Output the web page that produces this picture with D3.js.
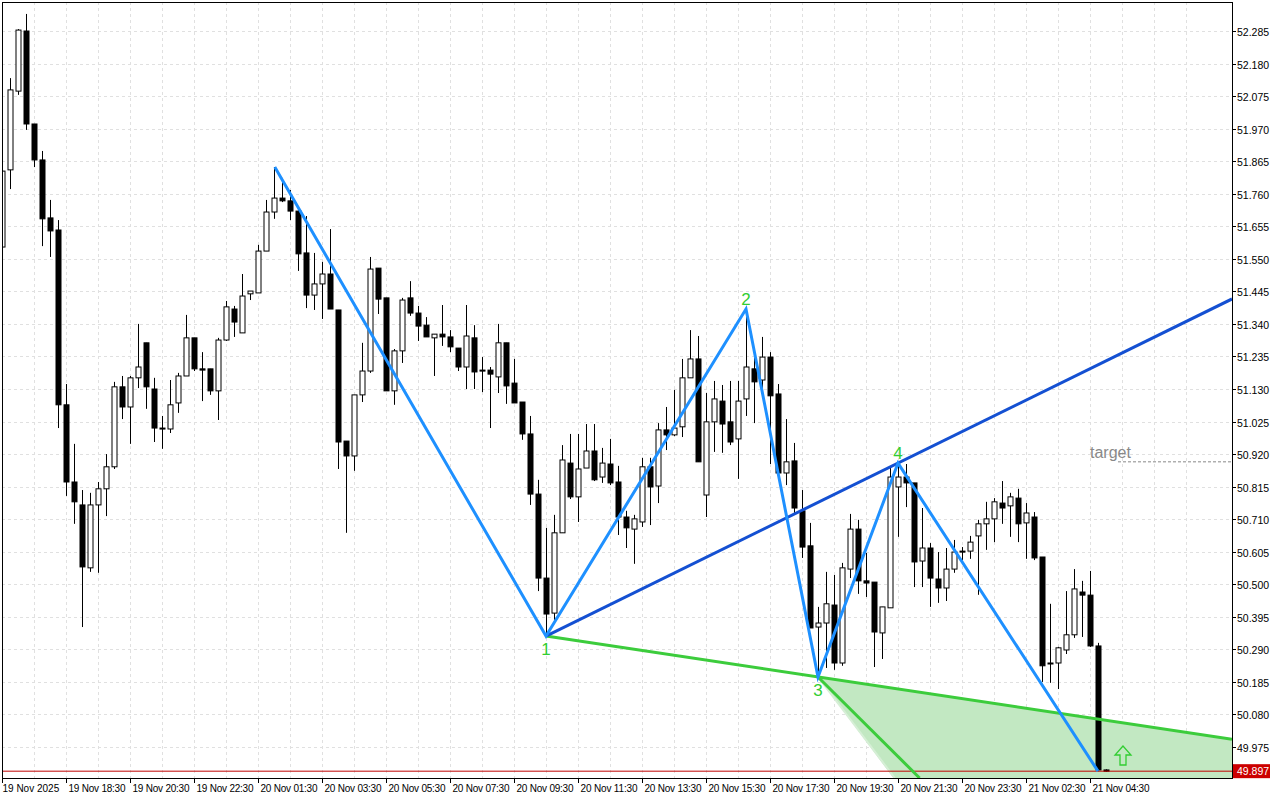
<!DOCTYPE html>
<html><head><meta charset="utf-8">
<script src="https://cdn.jsdelivr.net/npm/d3@7"></script>
<style>body{margin:0;background:#fff}text{font-family:"Liberation Sans",Arial,sans-serif}</style>
</head><body><svg id="c" width="1280" height="800"></svg>
<script>
const openP=[51.588,51.837,52.091,52.285,51.985,51.869,51.682,51.643,51.079,50.830,50.756,50.553,50.756,50.808,50.879,51.137,51.072,51.166,51.279,51.130,51.004,51.001,51.085,51.172,51.295,51.195,51.195,51.124,51.288,51.388,51.311,51.437,51.440,51.575,51.701,51.746,51.737,51.704,51.569,51.433,51.469,51.501,51.385,50.962,50.914,51.111,51.188,51.520,51.424,51.124,51.253,51.424,51.375,51.336,51.295,51.307,51.298,51.262,51.201,51.295,51.191,51.191,51.169,51.279,51.149,51.088,50.985,50.791,50.520,50.407,50.666,50.891,50.782,50.875,50.930,50.846,50.888,50.830,50.717,50.678,50.701,50.879,50.817,50.998,50.982,51.008,51.166,51.227,50.788,51.024,51.091,51.024,50.969,51.098,51.195,51.159,51.233,51.114,50.859,50.898,50.737,50.624,50.362,50.375,50.433,50.246,50.549,50.678,50.511,50.507,50.343,50.424,50.814,50.846,50.827,50.575,50.617,50.517,50.488,50.549,50.607,50.607,50.656,50.695,50.711,50.762,50.753,50.778,50.698,50.717,50.588,50.246,50.246,50.288,50.337,50.475,50.465,50.301,49.901];
const highP=[51.853,52.133,52.291,52.340,51.985,51.898,51.740,51.675,51.146,50.953,50.804,50.795,50.830,50.920,51.153,51.172,51.172,51.340,51.279,51.166,51.043,51.159,51.182,51.369,51.295,51.249,51.195,51.295,51.414,51.398,51.501,51.446,51.595,51.740,51.846,51.811,51.772,51.711,51.688,51.569,51.540,51.646,51.385,50.962,51.111,51.279,51.556,51.520,51.424,51.259,51.424,51.478,51.398,51.362,51.307,51.401,51.320,51.262,51.401,51.336,51.233,51.201,51.340,51.279,51.227,51.088,51.043,50.837,50.682,50.724,50.949,50.985,50.985,51.017,51.017,50.940,50.969,50.882,50.737,50.724,50.908,50.908,51.020,51.072,51.127,51.227,51.320,51.301,51.117,51.156,51.143,51.156,51.156,51.385,51.230,51.298,51.249,51.146,51.033,50.956,50.804,50.698,50.427,50.540,50.530,50.569,50.727,50.708,50.601,50.507,50.427,50.879,50.891,50.888,50.827,50.746,50.633,50.604,50.617,50.643,50.620,50.656,50.708,50.766,50.778,50.833,50.795,50.808,50.762,50.733,50.588,50.437,50.298,50.478,50.549,50.511,50.543,50.311,49.903];
const lowP=[51.585,51.775,52.079,51.966,51.846,51.591,51.556,51.004,50.785,50.695,50.362,50.540,50.537,50.720,50.872,51.033,50.953,51.133,51.066,50.959,50.937,50.988,51.053,51.172,51.188,51.091,51.111,51.030,51.285,51.298,51.311,51.417,51.440,51.575,51.679,51.733,51.675,51.511,51.391,51.385,51.356,51.388,50.872,50.666,50.866,51.088,51.182,51.372,51.124,51.079,51.214,51.366,51.285,51.298,51.172,51.269,51.249,51.188,51.130,51.130,51.120,51.004,51.117,51.082,51.085,50.966,50.756,50.478,50.333,50.385,50.666,50.775,50.701,50.875,50.833,50.827,50.820,50.659,50.617,50.566,50.685,50.691,50.762,50.933,50.978,50.975,51.166,50.895,50.717,50.927,50.924,50.949,50.840,51.043,51.020,51.133,50.888,50.859,50.820,50.730,50.585,50.359,50.204,50.230,50.224,50.237,50.520,50.469,50.459,50.233,50.259,50.424,50.653,50.749,50.491,50.491,50.427,50.440,50.446,50.537,50.578,50.582,50.466,50.611,50.636,50.695,50.653,50.636,50.582,50.578,50.185,50.182,50.162,50.275,50.327,50.330,50.298,49.897,49.895];
const closeP=[51.833,52.095,52.288,51.985,51.869,51.679,51.640,51.079,50.830,50.766,50.556,50.756,50.808,50.879,51.137,51.072,51.166,51.201,51.137,51.004,51.001,51.079,51.172,51.295,51.195,51.191,51.124,51.288,51.395,51.346,51.430,51.446,51.575,51.701,51.746,51.737,51.704,51.566,51.433,51.469,51.501,51.388,50.959,50.914,51.111,51.188,51.517,51.420,51.124,51.253,51.417,51.375,51.333,51.298,51.307,51.298,51.266,51.201,51.301,51.185,51.188,51.178,51.279,51.140,51.085,50.985,50.791,50.520,50.404,50.666,50.901,50.782,50.872,50.930,50.837,50.891,50.827,50.717,50.682,50.711,50.879,50.814,50.998,50.982,51.004,51.166,51.227,50.895,51.024,51.098,51.017,50.959,51.091,51.201,51.153,51.233,51.108,50.859,50.895,50.746,50.620,50.359,50.375,50.437,50.246,50.553,50.678,50.511,50.504,50.346,50.427,50.846,50.846,50.827,50.572,50.617,50.520,50.488,50.549,50.604,50.605,50.636,50.695,50.711,50.766,50.746,50.782,50.695,50.730,50.585,50.237,50.243,50.295,50.337,50.485,50.465,50.301,49.901,49.897];
const priceTicks=[52.285,52.180,52.075,51.970,51.865,51.760,51.655,51.550,51.445,51.340,51.235,51.130,51.025,50.920,50.815,50.710,50.605,50.500,50.395,50.290,50.185,50.080,49.975];
const timeTickIdx=[0,8,16,24,32,40,48,56,64,72,80,88,96,104,112,120,128,136];
const timeTickLabels=["19 Nov 2025","19 Nov 18:30","19 Nov 20:30","19 Nov 22:30","20 Nov 01:30","20 Nov 03:30","20 Nov 05:30","20 Nov 07:30","20 Nov 09:30","20 Nov 11:30","20 Nov 13:30","20 Nov 15:30","20 Nov 17:30","20 Nov 19:30","20 Nov 21:30","20 Nov 23:30","21 Nov 02:30","21 Nov 04:30"];
const pivotIdx=[34.1,68,93,102,112,137];
const pivotPrice=[51.846,50.333,51.388,50.201,50.891,49.897];
const pivotLabels=["","1","2","3","4","5"];
const lastPrice=49.897, targetPrice=50.895;

const L=2,R=1232,T=2,B=778;
const svg=d3.select("#c");
const x=d3.scaleLinear().domain([0,137]).range([2,1098]);
const y=d3.scaleLinear().domain([52.285,49.975]).range([31,747]);
const idxR=x.invert(R);
svg.append("defs").append("clipPath").attr("id","cp").append("rect").attr("x",L).attr("y",T).attr("width",R-L).attr("height",B-T);
const g=svg.append("g").attr("clip-path","url(#cp)");
g.selectAll(".hg").data(priceTicks).enter().append("line").attr("x1",L).attr("x2",R).attr("y1",d=>Math.round(y(d))+.5).attr("y2",d=>Math.round(y(d))+.5).attr("stroke","#e0e0e0").attr("stroke-dasharray","3,3");
g.selectAll(".vg").data(d3.range(4,152,4)).enter().append("line").attr("y1",T).attr("y2",B).attr("x1",d=>Math.round(x(d))+.5).attr("x2",d=>Math.round(x(d))+.5).attr("stroke","#e0e0e0").attr("stroke-dasharray","3,3");
const i3=pivotIdx[3],p3=pivotPrice[3],i1=pivotIdx[1],p1=pivotPrice[1];
const s13=(p3-p1)/(i3-i1);
const pB=y.invert(B);
const steepEnd=[114.7,pB], fillEnd=[111.6,pB];
g.append("path").attr("d",d3.line()([[x(i3),y(p3)],[x(idxR),y(p3+s13*(idxR-i3))],[x(idxR),B+2],[x(fillEnd[0]),B+2]])).attr("fill","#c2e8c2");
g.append("line").attr("x1",x(i3)).attr("y1",y(p3)).attr("x2",x(fillEnd[0])).attr("y2",y(fillEnd[1])).attr("stroke","#d6efd6").attr("stroke-width",2);
const n=openP.length;
const cg=g.append("g");
d3.range(n).forEach(i=>{
  const cx=Math.round(x(i))+.5;
  cg.append("line").attr("x1",cx).attr("x2",cx).attr("y1",y(highP[i])).attr("y2",y(lowP[i])).attr("stroke","#000");
  const up=closeP[i]>=openP[i];
  const t=y(Math.max(openP[i],closeP[i])),b=y(Math.min(openP[i],closeP[i]));
  cg.append("rect").attr("x",cx-2.5).attr("y",t).attr("width",5).attr("height",Math.max(1,b-t)).attr("fill",up?"#fff":"#000").attr("stroke","#000").attr("stroke-width",1);
});
g.append("line").attr("x1",L).attr("x2",R).attr("y1",y(lastPrice)).attr("y2",y(lastPrice)).attr("stroke","#c00000");
g.append("line").attr("x1",x(i3)).attr("y1",y(p3)).attr("x2",x(steepEnd[0])).attr("y2",y(steepEnd[1])).attr("stroke","#3ccc3c").attr("stroke-width",3);
g.append("line").attr("x1",x(i1)).attr("y1",y(p1)).attr("x2",x(idxR)).attr("y2",y(p1+s13*(idxR-i1))).attr("stroke","#3ccc3c").attr("stroke-width",3);
const i4=pivotIdx[4],p4=pivotPrice[4],s14=(p4-p1)/(i4-i1);
g.append("line").attr("x1",x(i1)).attr("y1",y(p1)).attr("x2",x(idxR)).attr("y2",y(p1+s14*(idxR-i1))).attr("stroke","#1450d2").attr("stroke-width",3);
g.append("path").attr("d",d3.line()(pivotIdx.map((d,k)=>[x(d),y(pivotPrice[k])]))).attr("fill","none").attr("stroke","#1e90ff").attr("stroke-width",3);
pivotLabels.forEach((t,k)=>{ if(!t)return; const above=k%2==0;
  g.append("text").attr("x",x(pivotIdx[k])).attr("y",y(pivotPrice[k])+(above?-4:19)).attr("text-anchor","middle").attr("font-family","DejaVu Sans").attr("font-size",17).attr("fill","#32cd32").text(t);});
g.append("line").attr("x1",1118).attr("x2",R).attr("y1",y(targetPrice)).attr("y2",y(targetPrice)).attr("stroke","#888").attr("stroke-dasharray","3,2");
g.append("text").attr("x",1090).attr("y",y(targetPrice)-4).attr("font-family","DejaVu Sans").attr("font-size",16).attr("fill","#888").text("target");
g.append("path").attr("d","M1123,746 l-8,9 h5 v10 h6 v-10 h5 z").attr("fill","none").attr("stroke","#32cd32").attr("stroke-width",1.3);
svg.append("rect").attr("x",L+.5).attr("y",T+.5).attr("width",R-L).attr("height",B-T).attr("fill","none").attr("stroke","#000");
priceTicks.forEach(p=>{const yy=Math.round(y(p))+.5;
  svg.append("line").attr("x1",R).attr("x2",R+4).attr("y1",yy).attr("y2",yy).attr("stroke","#000");
  svg.append("text").attr("x",R+5).attr("y",yy+4).attr("font-size",10.5).attr("fill","#000").text(p.toFixed(3));});
svg.append("rect").attr("x",R+1).attr("y",y(lastPrice)-7).attr("width",37).attr("height",14).attr("fill","#cc0000");
svg.append("text").attr("x",R+5).attr("y",y(lastPrice)+4).attr("font-size",10.5).attr("fill","#fff").text(lastPrice.toFixed(3));
timeTickIdx.forEach((i,k)=>{const xx=Math.round(x(i))+.5;
  svg.append("line").attr("x1",xx).attr("x2",xx).attr("y1",B).attr("y2",B+5).attr("stroke","#000");
  svg.append("text").attr("x",xx+(k==0?0:2)).attr("y",B+14).attr("font-size",10).attr("textLength",k==0?null:57).attr("fill","#000").text(timeTickLabels[k]);});
</script></body></html>
